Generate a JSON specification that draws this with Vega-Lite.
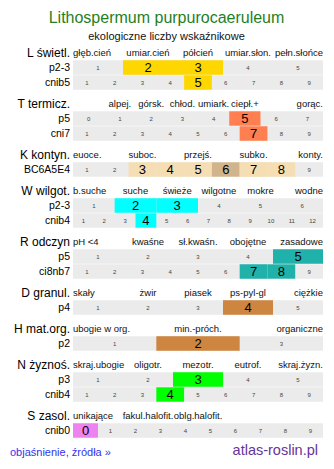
{
  "$schema": "https://vega.github.io/schema/vega-lite/v6.json",
  "padding": {"left": 10, "top": 10, "right": 5, "bottom": 5},
  "title": {
    "text": "Lithospermum purpurocaeruleum",
    "subtitle": "ekologiczne liczby wskaźnikowe",
    "anchor": "middle",
    "frame": "bounds",
    "font": "Liberation Sans",
    "fontSize": 16,
    "fontWeight": "normal",
    "color": "#1f801f",
    "subtitleFont": "Liberation Sans",
    "subtitleFontSize": 11,
    "subtitleColor": "#111111",
    "subtitlePadding": 5,
    "offset": 3
  },
  "datasets": {
    "scale": [
      {"g":"L","l":"L świetl.","o":0,"k":"h","t":"głęb.cień","i":0,"n":5},
      {"g":"L","l":"L świetl.","o":0,"k":"h","t":"umiar.cień","i":1,"n":5},
      {"g":"L","l":"L świetl.","o":0,"k":"h","t":"półcień","i":2,"n":5},
      {"g":"L","l":"L świetl.","o":0,"k":"h","t":"umiar.słon.","i":3,"n":5},
      {"g":"L","l":"L świetl.","o":0,"k":"h","t":"pełn.słońce","i":4,"n":5},
      {"g":"L","l":"p2-3","o":1,"k":"c","t":"1","i":0,"n":5,"v":0},
      {"g":"L","l":"p2-3","o":1,"k":"c","t":"2","i":1,"n":5,"v":1},
      {"g":"L","l":"p2-3","o":1,"k":"c","t":"3","i":2,"n":5,"v":1},
      {"g":"L","l":"p2-3","o":1,"k":"c","t":"4","i":3,"n":5,"v":0},
      {"g":"L","l":"p2-3","o":1,"k":"c","t":"5","i":4,"n":5,"v":0},
      {"g":"L","l":"cnib5","o":2,"k":"c","t":"1","i":0,"n":9,"v":0},
      {"g":"L","l":"cnib5","o":2,"k":"c","t":"2","i":1,"n":9,"v":0},
      {"g":"L","l":"cnib5","o":2,"k":"c","t":"3","i":2,"n":9,"v":0},
      {"g":"L","l":"cnib5","o":2,"k":"c","t":"4","i":3,"n":9,"v":0},
      {"g":"L","l":"cnib5","o":2,"k":"c","t":"5","i":4,"n":9,"v":1},
      {"g":"L","l":"cnib5","o":2,"k":"c","t":"6","i":5,"n":9,"v":0},
      {"g":"L","l":"cnib5","o":2,"k":"c","t":"7","i":6,"n":9,"v":0},
      {"g":"L","l":"cnib5","o":2,"k":"c","t":"8","i":7,"n":9,"v":0},
      {"g":"L","l":"cnib5","o":2,"k":"c","t":"9","i":8,"n":9,"v":0},

      {"g":"T","l":"T termicz.","o":0,"k":"h","t":"alpej.","i":1,"n":8},
      {"g":"T","l":"T termicz.","o":0,"k":"h","t":"górsk.","i":2,"n":8},
      {"g":"T","l":"T termicz.","o":0,"k":"h","t":"chłod.","i":3,"n":8},
      {"g":"T","l":"T termicz.","o":0,"k":"h","t":"umiark.","i":4,"n":8},
      {"g":"T","l":"T termicz.","o":0,"k":"h","t":"ciepł.+","i":5,"n":8},
      {"g":"T","l":"T termicz.","o":0,"k":"h","t":"gorąc.","i":7,"n":8},
      {"g":"T","l":"p5","o":1,"k":"c","t":"0","i":0,"n":8,"v":0},
      {"g":"T","l":"p5","o":1,"k":"c","t":"1","i":1,"n":8,"v":0},
      {"g":"T","l":"p5","o":1,"k":"c","t":"2","i":2,"n":8,"v":0},
      {"g":"T","l":"p5","o":1,"k":"c","t":"3","i":3,"n":8,"v":0},
      {"g":"T","l":"p5","o":1,"k":"c","t":"4","i":4,"n":8,"v":0},
      {"g":"T","l":"p5","o":1,"k":"c","t":"5","i":5,"n":8,"v":1},
      {"g":"T","l":"p5","o":1,"k":"c","t":"6","i":6,"n":8,"v":0},
      {"g":"T","l":"p5","o":1,"k":"c","t":"7","i":7,"n":8,"v":0},
      {"g":"T","l":"cni7","o":2,"k":"c","t":"1","i":0,"n":9,"v":0},
      {"g":"T","l":"cni7","o":2,"k":"c","t":"2","i":1,"n":9,"v":0},
      {"g":"T","l":"cni7","o":2,"k":"c","t":"3","i":2,"n":9,"v":0},
      {"g":"T","l":"cni7","o":2,"k":"c","t":"4","i":3,"n":9,"v":0},
      {"g":"T","l":"cni7","o":2,"k":"c","t":"5","i":4,"n":9,"v":0},
      {"g":"T","l":"cni7","o":2,"k":"c","t":"6","i":5,"n":9,"v":0},
      {"g":"T","l":"cni7","o":2,"k":"c","t":"7","i":6,"n":9,"v":1},
      {"g":"T","l":"cni7","o":2,"k":"c","t":"8","i":7,"n":9,"v":0},
      {"g":"T","l":"cni7","o":2,"k":"c","t":"9","i":8,"n":9,"v":0},

      {"g":"K","l":"K kontyn.","o":0,"k":"h","t":"euoce.","i":0,"n":9},
      {"g":"K","l":"K kontyn.","o":0,"k":"h","t":"suboc.","i":2,"n":9},
      {"g":"K","l":"K kontyn.","o":0,"k":"h","t":"przejś.","i":4,"n":9},
      {"g":"K","l":"K kontyn.","o":0,"k":"h","t":"subko.","i":6,"n":9},
      {"g":"K","l":"K kontyn.","o":0,"k":"h","t":"konty.","i":8,"n":9},
      {"g":"K","l":"BC6A5E4","o":1,"k":"c","t":"1","i":0,"n":9,"v":0},
      {"g":"K","l":"BC6A5E4","o":1,"k":"c","t":"2","i":1,"n":9,"v":0},
      {"g":"K","l":"BC6A5E4","o":1,"k":"c","t":"3","i":2,"n":9,"v":1},
      {"g":"K","l":"BC6A5E4","o":1,"k":"c","t":"4","i":3,"n":9,"v":1},
      {"g":"K","l":"BC6A5E4","o":1,"k":"c","t":"5","i":4,"n":9,"v":1},
      {"g":"K","l":"BC6A5E4","o":1,"k":"c","t":"6","i":5,"n":9,"v":2},
      {"g":"K","l":"BC6A5E4","o":1,"k":"c","t":"7","i":6,"n":9,"v":1},
      {"g":"K","l":"BC6A5E4","o":1,"k":"c","t":"8","i":7,"n":9,"v":1},
      {"g":"K","l":"BC6A5E4","o":1,"k":"c","t":"9","i":8,"n":9,"v":0},

      {"g":"W","l":"W wilgot.","o":0,"k":"h","t":"b.suche","i":0,"n":6},
      {"g":"W","l":"W wilgot.","o":0,"k":"h","t":"suche","i":1,"n":6},
      {"g":"W","l":"W wilgot.","o":0,"k":"h","t":"świeże","i":2,"n":6},
      {"g":"W","l":"W wilgot.","o":0,"k":"h","t":"wilgotne","i":3,"n":6},
      {"g":"W","l":"W wilgot.","o":0,"k":"h","t":"mokre","i":4,"n":6},
      {"g":"W","l":"W wilgot.","o":0,"k":"h","t":"wodne","i":5,"n":6},
      {"g":"W","l":"p2-3","o":1,"k":"c","t":"1","i":0,"n":6,"v":0},
      {"g":"W","l":"p2-3","o":1,"k":"c","t":"2","i":1,"n":6,"v":1},
      {"g":"W","l":"p2-3","o":1,"k":"c","t":"3","i":2,"n":6,"v":1},
      {"g":"W","l":"p2-3","o":1,"k":"c","t":"4","i":3,"n":6,"v":0},
      {"g":"W","l":"p2-3","o":1,"k":"c","t":"5","i":4,"n":6,"v":0},
      {"g":"W","l":"p2-3","o":1,"k":"c","t":"6","i":5,"n":6,"v":0},
      {"g":"W","l":"cnib4","o":2,"k":"c","t":"1","i":0,"n":12,"v":0},
      {"g":"W","l":"cnib4","o":2,"k":"c","t":"2","i":1,"n":12,"v":0},
      {"g":"W","l":"cnib4","o":2,"k":"c","t":"3","i":2,"n":12,"v":0},
      {"g":"W","l":"cnib4","o":2,"k":"c","t":"4","i":3,"n":12,"v":1},
      {"g":"W","l":"cnib4","o":2,"k":"c","t":"5","i":4,"n":12,"v":0},
      {"g":"W","l":"cnib4","o":2,"k":"c","t":"6","i":5,"n":12,"v":0},
      {"g":"W","l":"cnib4","o":2,"k":"c","t":"7","i":6,"n":12,"v":0},
      {"g":"W","l":"cnib4","o":2,"k":"c","t":"8","i":7,"n":12,"v":0},
      {"g":"W","l":"cnib4","o":2,"k":"c","t":"9","i":8,"n":12,"v":0},
      {"g":"W","l":"cnib4","o":2,"k":"c","t":"10","i":9,"n":12,"v":0},
      {"g":"W","l":"cnib4","o":2,"k":"c","t":"11","i":10,"n":12,"v":0},
      {"g":"W","l":"cnib4","o":2,"k":"c","t":"12","i":11,"n":12,"v":0},

      {"g":"R","l":"R odczyn","o":0,"k":"h","t":"pH <4","i":0,"n":5},
      {"g":"R","l":"R odczyn","o":0,"k":"h","t":"kwaśne","i":1,"n":5},
      {"g":"R","l":"R odczyn","o":0,"k":"h","t":"sł.kwaśn.","i":2,"n":5},
      {"g":"R","l":"R odczyn","o":0,"k":"h","t":"obojętne","i":3,"n":5},
      {"g":"R","l":"R odczyn","o":0,"k":"h","t":"zasadowe","i":4,"n":5},
      {"g":"R","l":"p5","o":1,"k":"c","t":"1","i":0,"n":5,"v":0},
      {"g":"R","l":"p5","o":1,"k":"c","t":"2","i":1,"n":5,"v":0},
      {"g":"R","l":"p5","o":1,"k":"c","t":"3","i":2,"n":5,"v":0},
      {"g":"R","l":"p5","o":1,"k":"c","t":"4","i":3,"n":5,"v":0},
      {"g":"R","l":"p5","o":1,"k":"c","t":"5","i":4,"n":5,"v":1},
      {"g":"R","l":"ci8nb7","o":2,"k":"c","t":"1","i":0,"n":9,"v":0},
      {"g":"R","l":"ci8nb7","o":2,"k":"c","t":"2","i":1,"n":9,"v":0},
      {"g":"R","l":"ci8nb7","o":2,"k":"c","t":"3","i":2,"n":9,"v":0},
      {"g":"R","l":"ci8nb7","o":2,"k":"c","t":"4","i":3,"n":9,"v":0},
      {"g":"R","l":"ci8nb7","o":2,"k":"c","t":"5","i":4,"n":9,"v":0},
      {"g":"R","l":"ci8nb7","o":2,"k":"c","t":"6","i":5,"n":9,"v":0},
      {"g":"R","l":"ci8nb7","o":2,"k":"c","t":"7","i":6,"n":9,"v":1},
      {"g":"R","l":"ci8nb7","o":2,"k":"c","t":"8","i":7,"n":9,"v":1},
      {"g":"R","l":"ci8nb7","o":2,"k":"c","t":"9","i":8,"n":9,"v":0},

      {"g":"D","l":"D granul.","o":0,"k":"h","t":"skały","i":0,"n":5},
      {"g":"D","l":"D granul.","o":0,"k":"h","t":"żwir","i":1,"n":5},
      {"g":"D","l":"D granul.","o":0,"k":"h","t":"piasek","i":2,"n":5},
      {"g":"D","l":"D granul.","o":0,"k":"h","t":"ps-pyl-gl","i":3,"n":5},
      {"g":"D","l":"D granul.","o":0,"k":"h","t":"ciężkie","i":4,"n":5},
      {"g":"D","l":"p4","o":1,"k":"c","t":"1","i":0,"n":5,"v":0},
      {"g":"D","l":"p4","o":1,"k":"c","t":"2","i":1,"n":5,"v":0},
      {"g":"D","l":"p4","o":1,"k":"c","t":"3","i":2,"n":5,"v":0},
      {"g":"D","l":"p4","o":1,"k":"c","t":"4","i":3,"n":5,"v":1},
      {"g":"D","l":"p4","o":1,"k":"c","t":"5","i":4,"n":5,"v":0},

      {"g":"H","l":"H mat.org.","o":0,"k":"h","t":"ubogie w org.","i":0,"n":3},
      {"g":"H","l":"H mat.org.","o":0,"k":"h","t":"min.-próch.","i":1,"n":3},
      {"g":"H","l":"H mat.org.","o":0,"k":"h","t":"organiczne","i":2,"n":3},
      {"g":"H","l":"p2","o":1,"k":"c","t":"1","i":0,"n":3,"v":0},
      {"g":"H","l":"p2","o":1,"k":"c","t":"2","i":1,"n":3,"v":1},
      {"g":"H","l":"p2","o":1,"k":"c","t":"3","i":2,"n":3,"v":0},

      {"g":"N","l":"N żyznoś.","o":0,"k":"h","t":"skraj.ubogie","i":0,"n":5},
      {"g":"N","l":"N żyznoś.","o":0,"k":"h","t":"oligotr.","i":1,"n":5},
      {"g":"N","l":"N żyznoś.","o":0,"k":"h","t":"mezotr.","i":2,"n":5},
      {"g":"N","l":"N żyznoś.","o":0,"k":"h","t":"eutrof.","i":3,"n":5},
      {"g":"N","l":"N żyznoś.","o":0,"k":"h","t":"skraj.żyzn.","i":4,"n":5},
      {"g":"N","l":"p3","o":1,"k":"c","t":"1","i":0,"n":5,"v":0},
      {"g":"N","l":"p3","o":1,"k":"c","t":"2","i":1,"n":5,"v":0},
      {"g":"N","l":"p3","o":1,"k":"c","t":"3","i":2,"n":5,"v":1},
      {"g":"N","l":"p3","o":1,"k":"c","t":"4","i":3,"n":5,"v":0},
      {"g":"N","l":"p3","o":1,"k":"c","t":"5","i":4,"n":5,"v":0},
      {"g":"N","l":"cnib4","o":2,"k":"c","t":"1","i":0,"n":9,"v":0},
      {"g":"N","l":"cnib4","o":2,"k":"c","t":"2","i":1,"n":9,"v":0},
      {"g":"N","l":"cnib4","o":2,"k":"c","t":"3","i":2,"n":9,"v":0},
      {"g":"N","l":"cnib4","o":2,"k":"c","t":"4","i":3,"n":9,"v":1},
      {"g":"N","l":"cnib4","o":2,"k":"c","t":"5","i":4,"n":9,"v":0},
      {"g":"N","l":"cnib4","o":2,"k":"c","t":"6","i":5,"n":9,"v":0},
      {"g":"N","l":"cnib4","o":2,"k":"c","t":"7","i":6,"n":9,"v":0},
      {"g":"N","l":"cnib4","o":2,"k":"c","t":"8","i":7,"n":9,"v":0},
      {"g":"N","l":"cnib4","o":2,"k":"c","t":"9","i":8,"n":9,"v":0},

      {"g":"S","l":"S zasol.","o":0,"k":"h","t":"unikające","i":0,"n":5},
      {"g":"S","l":"S zasol.","o":0,"k":"h","t":"fakul.halofit.","i":1,"n":5},
      {"g":"S","l":"S zasol.","o":0,"k":"h","t":"oblg.halofit.","i":2,"n":5},
      {"g":"S","l":"cnib0","o":1,"k":"c","t":"0","i":0,"n":10,"v":1},
      {"g":"S","l":"cnib0","o":1,"k":"c","t":"1","i":1,"n":10,"v":0},
      {"g":"S","l":"cnib0","o":1,"k":"c","t":"2","i":2,"n":10,"v":0},
      {"g":"S","l":"cnib0","o":1,"k":"c","t":"3","i":3,"n":10,"v":0},
      {"g":"S","l":"cnib0","o":1,"k":"c","t":"4","i":4,"n":10,"v":0},
      {"g":"S","l":"cnib0","o":1,"k":"c","t":"5","i":5,"n":10,"v":0},
      {"g":"S","l":"cnib0","o":1,"k":"c","t":"6","i":6,"n":10,"v":0},
      {"g":"S","l":"cnib0","o":1,"k":"c","t":"7","i":7,"n":10,"v":0},
      {"g":"S","l":"cnib0","o":1,"k":"c","t":"8","i":8,"n":10,"v":0},
      {"g":"S","l":"cnib0","o":1,"k":"c","t":"9","i":9,"n":10,"v":0}
    ],
    "links": [
      {"t": "objaśnienie, źródła »", "side": "left"},
      {"t": "atlas-roslin.pl", "side": "right"}
    ]
  },
  "spacing": 4,
  "vconcat": [
    {
      "data": {"name": "scale"},
      "transform": [
        {"calculate": "datum.i / datum.n", "as": "x0"},
        {"calculate": "(datum.i + 1) / datum.n", "as": "x1"},
        {"calculate": "(datum.i + 0.5) / datum.n", "as": "xm"},
        {"calculate": "datum.g + datum.v", "as": "key"}
      ],
      "facet": {
        "row": {"field": "g", "type": "nominal", "sort": ["L","T","K","W","R","D","H","N","S"], "header": null}
      },
      "spacing": 6,
      "resolve": {"scale": {"y": "independent"}, "axis": {"y": "independent"}},
      "spec": {
        "width": 250,
        "height": {"step": 15},
        "encoding": {
          "y": {
            "field": "l", "type": "nominal",
            "sort": {"field": "o", "op": "min"},
            "scale": {"paddingInner": 0.04, "paddingOuter": 0.02},
            "axis": {
              "title": null, "domain": false, "ticks": false,
              "labelPadding": 3.5,
              "labelFont": "Liberation Sans",
              "labelColor": "#000000",
              "labelFontSize": {"condition": {"test": "indexof(datum.value, ' ') > 0", "value": 12}, "value": 10.5},
              "labelLimit": 200
            }
          }
        },
        "layer": [
          {
            "transform": [{"filter": "datum.k == 'c' && datum.i == 0"}],
            "mark": {"type": "rect", "color": "#ebebeb"},
            "encoding": {
              "x": {"datum": 0, "type": "quantitative", "scale": {"domain": [0, 1]}, "axis": null},
              "x2": {"datum": 1}
            }
          },
          {
            "transform": [{"filter": "datum.k == 'c' && datum.v > 0"}],
            "mark": {"type": "rect"},
            "encoding": {
              "x": {"field": "x0", "type": "quantitative", "scale": {"domain": [0, 1]}, "axis": null},
              "x2": {"field": "x1"},
              "fill": {
                "field": "key", "type": "nominal", "legend": null,
                "scale": {
                  "domain": ["L1","T1","K1","K2","W1","R1","D1","H1","N1","S1"],
                  "range": ["#FFD700","#FF7F50","#F5DEB3","#D2B48C","#00FFFF","#20B2AA","#CD853F","#CD853F","#00FF00","#EE82EE"]
                }
              }
            }
          },
          {
            "transform": [{"filter": "datum.k == 'c' && datum.v == 0"}],
            "mark": {"type": "text", "font": "Liberation Sans", "fontSize": 6, "color": "#444444", "baseline": "middle"},
            "encoding": {
              "x": {"field": "xm", "type": "quantitative"},
              "text": {"field": "t"}
            }
          },
          {
            "transform": [{"filter": "datum.k == 'c' && datum.v > 0"}],
            "mark": {"type": "text", "font": "Liberation Sans", "fontSize": 13, "color": "#000000", "baseline": "middle"},
            "encoding": {
              "x": {"field": "xm", "type": "quantitative"},
              "text": {"field": "t"}
            }
          },
          {
            "transform": [{"filter": "datum.k == 'h' && datum.i == 0"}],
            "mark": {"type": "text", "font": "Liberation Sans", "fontSize": 9.5, "color": "#111111", "align": "left", "baseline": "middle"},
            "encoding": {
              "x": {"field": "x0", "type": "quantitative"},
              "text": {"field": "t"}
            }
          },
          {
            "transform": [{"filter": "datum.k == 'h' && datum.i > 0 && datum.i < datum.n - 1"}],
            "mark": {"type": "text", "font": "Liberation Sans", "fontSize": 9.5, "color": "#111111", "align": "center", "baseline": "middle"},
            "encoding": {
              "x": {"field": "xm", "type": "quantitative"},
              "text": {"field": "t"}
            }
          },
          {
            "transform": [{"filter": "datum.k == 'h' && datum.i > 0 && datum.i == datum.n - 1"}],
            "mark": {"type": "text", "font": "Liberation Sans", "fontSize": 9.5, "color": "#111111", "align": "right", "baseline": "middle"},
            "encoding": {
              "x": {"field": "x1", "type": "quantitative"},
              "text": {"field": "t"}
            }
          }
        ]
      }
    },
    {
      "data": {"name": "links"},
      "width": 250,
      "height": 15,
      "layer": [
        {
          "transform": [{"filter": "datum.side == 'left'"}],
          "mark": {"type": "text", "font": "Liberation Sans", "fontSize": 11, "color": "#3333ee", "align": "left", "baseline": "middle", "dy": 1},
          "encoding": {
            "x": {"datum": -0.252, "type": "quantitative", "scale": {"domain": [0, 1], "zero": false, "nice": false}, "axis": null},
            "text": {"field": "t"}
          }
        },
        {
          "transform": [{"filter": "datum.side == 'right'"}],
          "mark": {"type": "text", "font": "Liberation Sans", "fontSize": 14.5, "color": "#663399", "align": "right", "baseline": "middle", "dy": -1},
          "encoding": {
            "x": {"datum": 0.98, "type": "quantitative"},
            "text": {"field": "t"}
          }
        }
      ]
    }
  ],
  "config": {
    "view": {"stroke": null},
    "font": "Liberation Sans"
  }
}
